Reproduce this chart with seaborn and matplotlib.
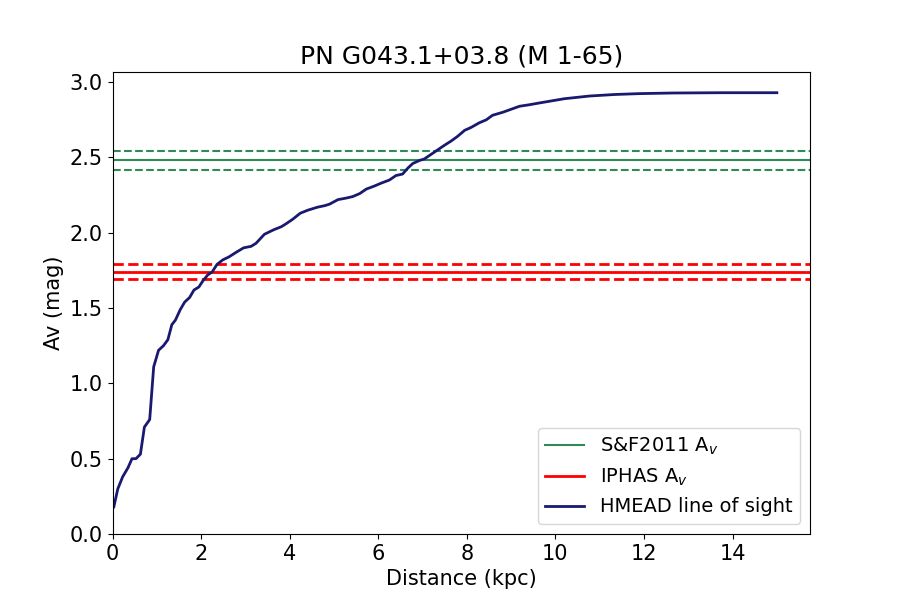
import numpy as np
import pandas as pd
import matplotlib
matplotlib.use("Agg")
import matplotlib.pyplot as plt
import seaborn as sns

# HMEAD line of sight extinction curve
dist_kpc = [0.03, 0.12, 0.23, 0.35, 0.44, 0.53, 0.63, 0.72, 0.84, 0.93, 1.04, 1.15,
            1.25, 1.34, 1.42, 1.53, 1.63, 1.74, 1.84, 1.95, 2.04, 2.15, 2.25, 2.36,
            2.49, 2.63, 2.79, 2.96, 3.13, 3.24, 3.43, 3.64, 3.81, 3.92, 4.07, 4.24,
            4.41, 4.63, 4.79, 4.90, 5.09, 5.27, 5.42, 5.58, 5.73, 5.91, 6.07, 6.25,
            6.40, 6.55, 6.67, 6.78, 6.93, 7.04, 7.19, 7.34, 7.49, 7.65, 7.79, 7.95,
            8.10, 8.28, 8.44, 8.58, 8.81, 9.00, 9.19, 9.41, 9.64, 10.2, 10.77, 11.33,
            11.9, 12.64, 13.77, 15.0]
av_mag = [0.18, 0.30, 0.38, 0.44, 0.50, 0.50, 0.53, 0.71, 0.76, 1.11, 1.22, 1.25,
          1.29, 1.39, 1.42, 1.49, 1.54, 1.57, 1.62, 1.64, 1.68, 1.72, 1.74, 1.79,
          1.82, 1.84, 1.87, 1.90, 1.91, 1.93, 1.99, 2.02, 2.04, 2.06, 2.09, 2.13,
          2.15, 2.17, 2.18, 2.19, 2.22, 2.23, 2.24, 2.26, 2.29, 2.31, 2.33, 2.35,
          2.38, 2.39, 2.43, 2.46, 2.48, 2.49, 2.52, 2.55, 2.58, 2.61, 2.64, 2.68,
          2.70, 2.73, 2.75, 2.78, 2.80, 2.82, 2.84, 2.85, 2.862, 2.89, 2.908, 2.918,
          2.924, 2.928, 2.93, 2.93]

sf_av, sf_err = 2.48, 0.06
iphas_av, iphas_err = 1.74, 0.05

df = pd.DataFrame({"dist": dist_kpc, "av": av_mag})

plt.rcParams["font.size"] = 15
fig, ax = plt.subplots(figsize=(9, 6), dpi=100)

ax.axhline(sf_av, color="seagreen", lw=1.5, label="S&F2011 A$_v$")
ax.axhline(sf_av + sf_err, color="seagreen", lw=1.5, ls="--")
ax.axhline(sf_av - sf_err, color="seagreen", lw=1.5, ls="--")

ax.axhline(iphas_av, color="red", lw=2, label="IPHAS A$_v$")
ax.axhline(iphas_av + iphas_err, color="red", lw=2, ls="--")
ax.axhline(iphas_av - iphas_err, color="red", lw=2, ls="--")

sns.lineplot(data=df, x="dist", y="av", color="midnightblue", lw=2,
             label="HMEAD line of sight", ax=ax)

ax.set_xlim(left=0)
ax.set_ylim(bottom=0)
ax.set_xlabel("Distance (kpc)")
ax.set_ylabel("Av (mag)")
ax.set_title("PN G043.1+03.8 (M 1-65)", fontsize=18)
ax.legend(loc="lower right", fontsize=14)

fig.savefig("out.png", dpi=100)
